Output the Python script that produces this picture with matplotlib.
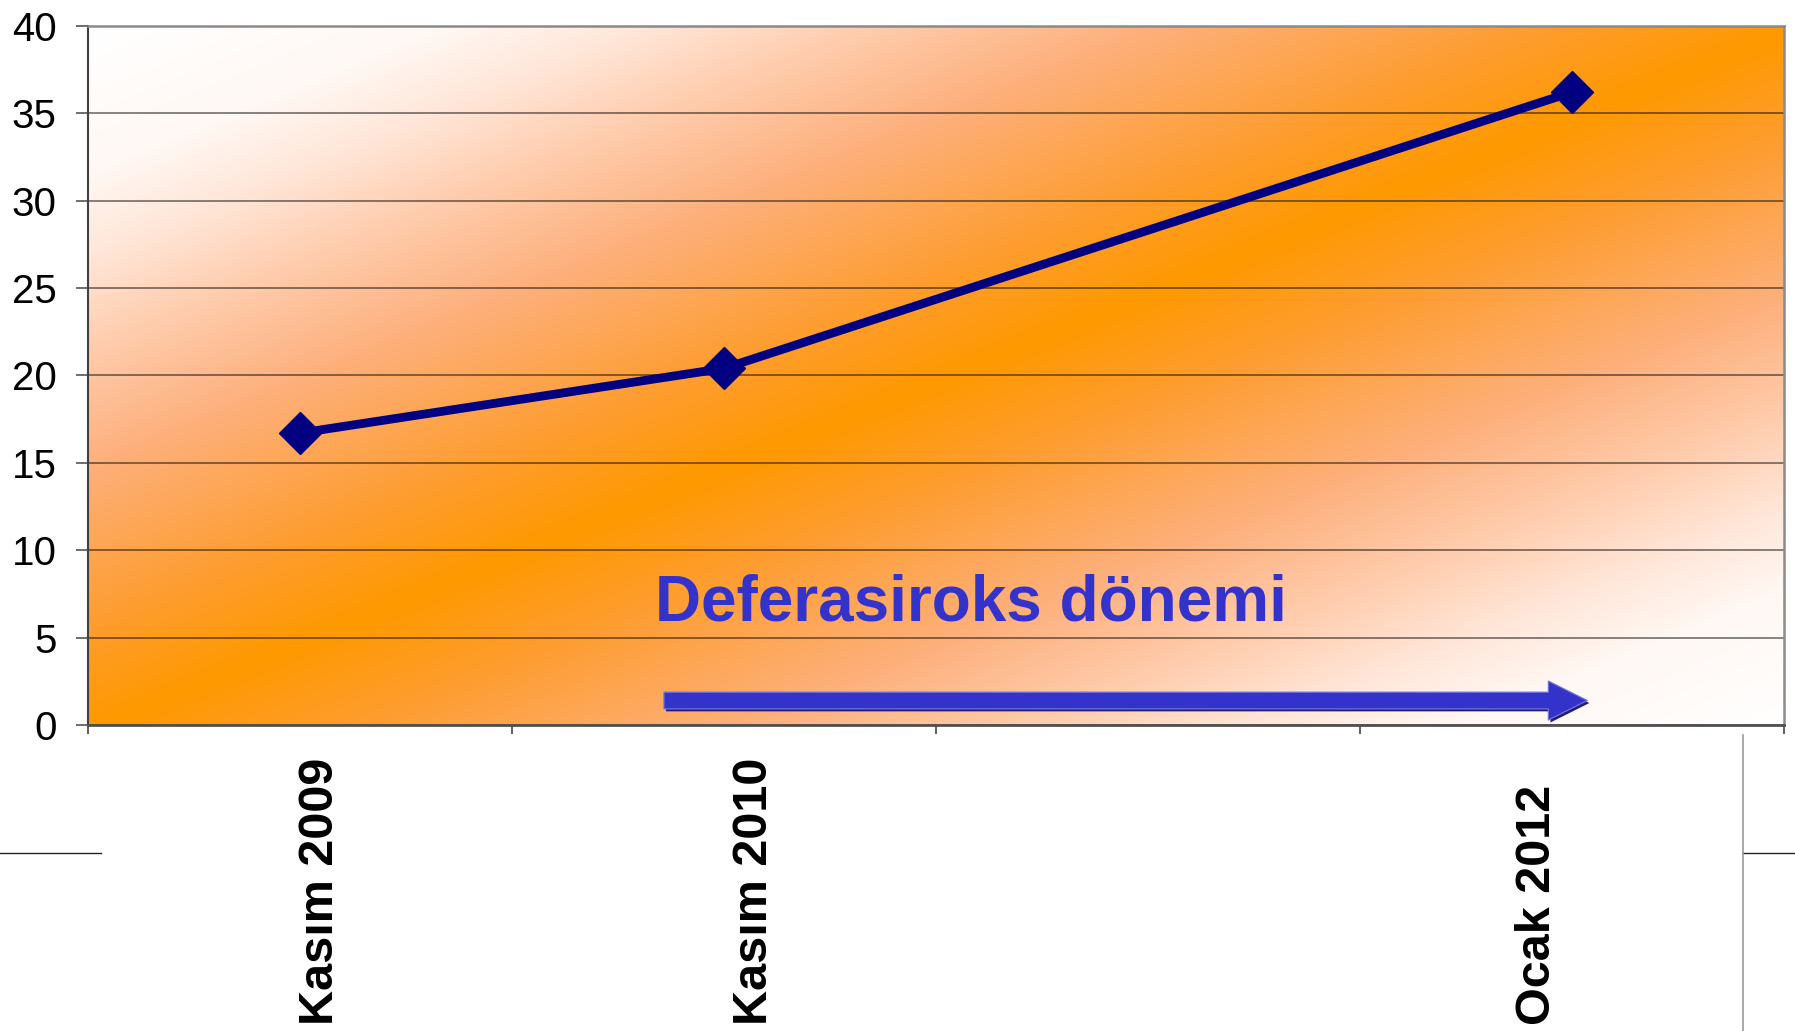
import numpy as np
import matplotlib
matplotlib.use("Agg")
import matplotlib.pyplot as plt
from matplotlib.colors import LinearSegmentedColormap
from matplotlib.lines import Line2D
from matplotlib.transforms import ScaledTranslation
import matplotlib.patheffects as pe

plt.rcParams["font.family"] = ["Liberation Sans", "DejaVu Sans"]

# ---- data -------------------------------------------------------------
categories = ["Kasım 2009", "Kasım 2010", "", "Ocak 2012"]
values = [16.7, 20.4, np.nan, 36.2]
y_ticks = [0, 5, 10, 15, 20, 25, 30, 35, 40]
period_label = "Deferasiroks dönemi"

# ---- figure / axes ----------------------------------------------------
W, H = 1795, 1031
fig = plt.figure(figsize=(W / 100, H / 100), dpi=100)
ax = fig.add_axes([88 / W, 1 - 725 / H, (1784 - 88) / W, (725 - 25.7) / H])

# diagonal orange-to-white gradient fill of the plot area
u = np.linspace(0, 1, 700)
v = np.linspace(0, 1, 350)
U, V = np.meshgrid(u, v)
dist = np.clip(np.abs(U - V - 0.01), 0, 1)
fill_cmap = LinearSegmentedColormap.from_list(
    "fill",
    [(0.0, "#FF9900"), (0.15, "#FE9D30"), (0.38, "#FDB07C"),
     (0.55, "#FFCDAE"), (0.68, "#FFE6D8"), (0.8, "#FFF8F4"),
     (1.0, "#FFFFFF")],
)
ax.imshow(dist, cmap=fill_cmap, vmin=0, vmax=1, extent=[0, 1, 0, 1],
          transform=ax.transAxes, origin="lower", aspect="auto",
          interpolation="bilinear", zorder=-1)

# series line with diamond markers (the empty category is skipped)
x = np.arange(len(categories))
vals = np.array(values, dtype=float)
ok = ~np.isnan(vals)
ax.plot(x[ok], vals[ok], color="#000080", lw=6.3, marker="D", ms=21,
        mfc="#000080", mec="#000080", zorder=3, clip_on=False)

ax.set_xlim(-0.5, len(categories) - 0.5)
ax.set_ylim(0, 40)

# y axis
ax.set_yticks(y_ticks)
ax.set_yticklabels([str(t) for t in y_ticks], fontsize=29)
ax.tick_params(axis="y", direction="out", length=8.6, width=1.2,
               color="#555555", pad=14)
ax.yaxis.grid(True, color="black", alpha=0.6, lw=1.1)
ax.set_axisbelow(True)

# x axis: labels under categories, tick marks between categories
ax.set_xticks(x)
ax.set_xticklabels(categories, rotation=90, fontsize=35, fontweight="bold",
                   va="bottom", ha="center")
ax.tick_params(axis="x", which="major", length=0, pad=216)
ax.set_xticks(np.arange(-0.5, len(categories)), minor=True)
ax.tick_params(axis="x", which="minor", direction="out", length=6.5,
               width=1.2, color="#444444")
label_shift_pt = [15, 22, 0, -25]
for lbl, s in zip(ax.get_xticklabels(), label_shift_pt):
    lbl.set_transform(lbl.get_transform()
                      + ScaledTranslation(s / 72, 0, fig.dpi_scale_trans))

# frame
ax.spines["left"].set(color="#404040", lw=1.5)
ax.spines["bottom"].set(color="#505050", lw=2.0)
ax.spines["top"].set(color="#8a8a8a", lw=1.8)
ax.spines["right"].set(color="#8a8a8a", lw=1.8)

# treatment period annotation
ax.text(0.3342, 0.149, period_label, transform=ax.transAxes, fontsize=46,
        fontweight="bold", color="#3333CC", ha="left", va="baseline",
        zorder=4)
ann = ax.annotate(
    "", xy=(0.884, 0.035), xytext=(0.3396, 0.035),
    xycoords="axes fraction", textcoords="axes fraction",
    arrowprops=dict(arrowstyle="simple,head_length=2.8,head_width=2.8,tail_width=1.2",
                    mutation_scale=10, fc="#3333CC", ec="#7070E0", lw=0.9,
                    shrinkA=0, shrinkB=0),
    zorder=4,
)
ann.arrow_patch.set_path_effects([
    pe.SimplePatchShadow(offset=(1.5, -1.8), shadow_rgbFace="#1E1E78", alpha=1),
    pe.Normal(),
])

# surrounding table rules
fig.add_artist(Line2D([0, 101 / W], [1 - 853 / H] * 2, color="#222222",
                      lw=1.0, transform=fig.transFigure))
fig.add_artist(Line2D([1743 / W, 1], [1 - 853 / H] * 2, color="#222222",
                      lw=1.0, transform=fig.transFigure))
fig.add_artist(Line2D([1743 / W] * 2, [1 - 735 / H, 0], color="#999999",
                      lw=1.2, transform=fig.transFigure))

fig.savefig("out.png", dpi=100)
